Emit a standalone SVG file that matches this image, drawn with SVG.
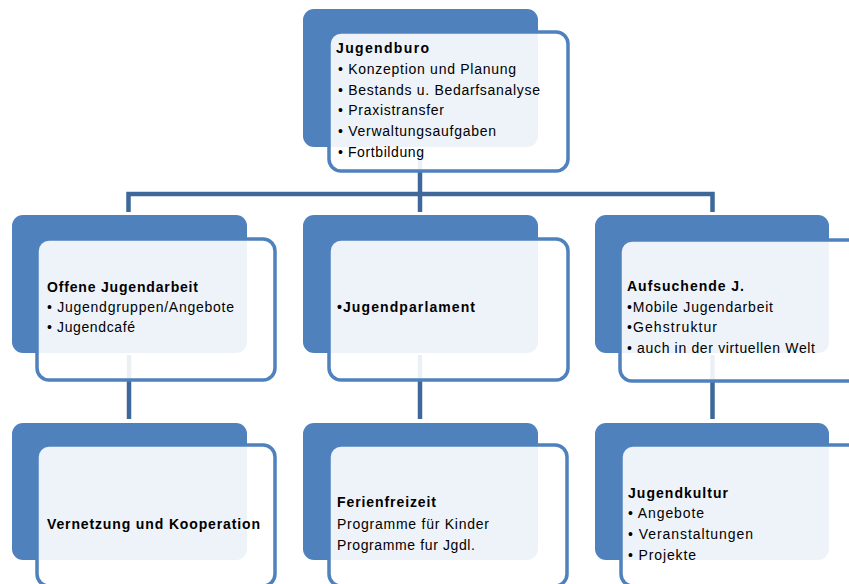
<svg xmlns="http://www.w3.org/2000/svg" width="849" height="584" viewBox="0 0 849 584">
<style>
.back{fill:#4F81BD;}
.front{fill:#FFFFFF;fill-opacity:0.9;stroke:#4F81BD;stroke-width:3.5;}
.conn{fill:none;stroke:#3D6899;stroke-width:4.5;stroke-linejoin:miter;}
text{font-family:"Liberation Sans",Arial,sans-serif;font-size:14px;fill:#000;}
.b{font-weight:bold;}
</style>
<rect width="849" height="584" fill="#FFFFFF"/>
<g id="connectors">
<path class="conn" d="M420,150 V212"/>
<path class="conn" d="M128.5,212 V194 H712.5 V212"/>
<path class="conn" d="M129,355 V419"/>
<path class="conn" d="M420,355 V419"/>
<path class="conn" d="M712.5,355 V419"/>
</g>
<g id="n-jugendburo">
<rect class="back" x="303" y="9" width="235" height="138" rx="11"/>
<rect class="front" x="329" y="32" width="239" height="139" rx="12"/>
<text class="b" x="336" y="53" textLength="93" lengthAdjust="spacing">Jugendburo</text>
<text x="338" y="74" textLength="178" lengthAdjust="spacing">• Konzeption und Planung</text>
<text x="338" y="95" textLength="202" lengthAdjust="spacing">• Bestands u. Bedarfsanalyse</text>
<text x="338" y="115" textLength="106" lengthAdjust="spacing">• Praxistransfer</text>
<text x="338" y="136" textLength="158" lengthAdjust="spacing">• Verwaltungsaufgaben</text>
<text x="338" y="157" textLength="86" lengthAdjust="spacing">• Fortbildung</text>
</g>
<g id="n-offene">
<rect class="back" x="12" y="215" width="235" height="138" rx="11"/>
<rect class="front" x="37" y="239" width="238" height="141" rx="12"/>
<text class="b" x="47" y="292" textLength="151" lengthAdjust="spacing">Offene Jugendarbeit</text>
<text x="47" y="312" textLength="187" lengthAdjust="spacing">• Jugendgruppen/Angebote</text>
<text x="47" y="332" textLength="88" lengthAdjust="spacing">• Jugendcafé</text>
</g>
<g id="n-parlament">
<rect class="back" x="303" y="215" width="235" height="138" rx="11"/>
<rect class="front" x="329" y="239" width="239" height="141" rx="12"/>
<text class="b" x="337" y="312" textLength="138" lengthAdjust="spacing">•Jugendparlament</text>
</g>
<g id="n-aufsuchende">
<rect class="back" x="595" y="215" width="234" height="138" rx="11"/>
<rect class="front" x="620" y="240" width="240" height="141" rx="12"/>
<text class="b" x="627" y="291" textLength="117" lengthAdjust="spacing">Aufsuchende J.</text>
<text x="627" y="312" textLength="146" lengthAdjust="spacing">•Mobile Jugendarbeit</text>
<text x="627" y="332" textLength="90" lengthAdjust="spacing">•Gehstruktur</text>
<text x="627" y="353" textLength="188" lengthAdjust="spacing">• auch in der virtuellen Welt</text>
</g>
<g id="n-vernetzung">
<rect class="back" x="12" y="423" width="235" height="137" rx="11"/>
<rect class="front" x="37" y="445" width="238" height="141" rx="12"/>
<text class="b" x="47" y="529" textLength="213" lengthAdjust="spacing">Vernetzung und Kooperation</text>
</g>
<g id="n-ferien">
<rect class="back" x="303" y="423" width="235" height="137" rx="11"/>
<rect class="front" x="329" y="445" width="238" height="141" rx="12"/>
<text class="b" x="337" y="507" textLength="99" lengthAdjust="spacing">Ferienfreizeit</text>
<text x="337" y="529" textLength="152" lengthAdjust="spacing">Programme für Kinder</text>
<text x="337" y="550" textLength="138" lengthAdjust="spacing">Programme fur Jgdl.</text>
</g>
<g id="n-kultur">
<rect class="back" x="595" y="423" width="234" height="137" rx="11"/>
<rect class="front" x="621" y="445" width="240" height="141" rx="12"/>
<text class="b" x="628" y="498" textLength="100" lengthAdjust="spacing">Jugendkultur</text>
<text x="628" y="518" textLength="76" lengthAdjust="spacing">• Angebote</text>
<text x="628" y="539" textLength="125" lengthAdjust="spacing">• Veranstaltungen</text>
<text x="628" y="560" textLength="68" lengthAdjust="spacing">• Projekte</text>
</g>
</svg>
